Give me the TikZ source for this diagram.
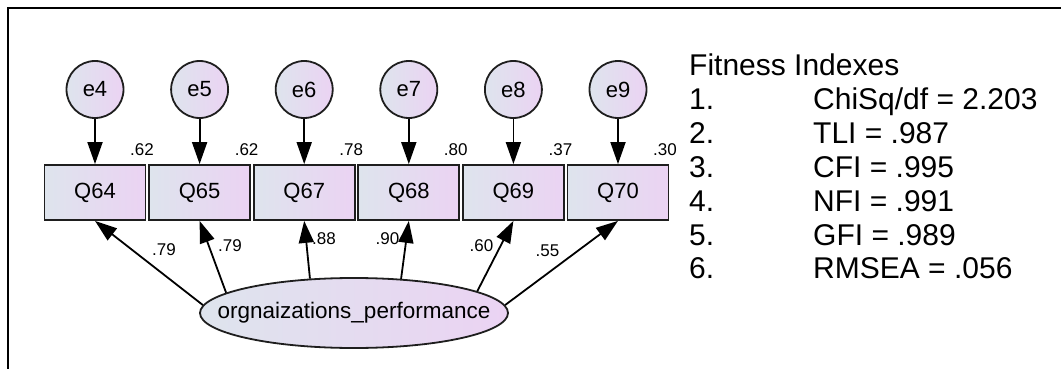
\documentclass[tikz,border=0pt]{standalone}
\usepackage{fontspec}
\setmainfont{Liberation Sans}
\usetikzlibrary{shapes.geometric,arrows.meta}
\definecolor{fillL}{RGB}{222,228,237}
\definecolor{fillR}{RGB}{235,211,243}
\definecolor{edge}{RGB}{30,30,30}
\begin{document}
\begin{tikzpicture}[x=1pt,y=-1pt,
  err/.style={circle, draw=edge, line width=1.8pt, minimum size=57pt, inner sep=0pt,
    left color=fillL, right color=fillR, font=\fontsize{22}{26}\selectfont},
  obs/.style={rectangle, draw=edge, line width=1.8pt, minimum width=101pt, minimum height=55pt,
    inner sep=0pt, left color=fillL, right color=fillR, font=\fontsize{22}{26}\selectfont},
  lat/.style={ellipse, draw=edge, line width=1.8pt, minimum width=308pt, minimum height=70pt,
    inner sep=0pt, left color=fillL, right color=fillR, font=\fontsize{22.5}{26}\selectfont},
  arr/.style={line width=1.8pt, draw=black, -{Triangle[length=22pt,width=15pt]}},
  coef/.style={font=\fontsize{17}{20}\selectfont, inner sep=0pt},
  fitline/.style={font=\fontsize{30}{34}\selectfont, anchor=base west, inner sep=0pt}]
\useasboundingbox (0,0) rectangle (1061,369);

% frame
\draw[line width=2pt] (8,369) -- (8,8) -- (1061,8);

% indicators with their error terms and squared multiple correlations
\foreach \n/\x/\e/\q/\v in {1/95/e4/Q64/.62, 2/199.6/e5/Q65/.62, 3/304.2/e6/Q67/.78,
                            4/408.8/e7/Q68/.80, 5/513.4/e8/Q69/.37, 6/618/e9/Q70/.30}{
  \node[err] (e\n) at (\x,89.5) {\e};
  \node[obs] (q\n) at (\x,192.5) {\q};
  \draw[arr] (e\n) -- (q\n);
  \node[coef] (r\n) at (\x+47,150) {\v};
}

% latent factor (label boxed at zero width so the ellipse keeps its set size)
\node[lat] (L) at (354,313) {\makebox[0pt]{orgnaizations\_performance}};

% standardized loadings
\foreach \n/\a/\lx/\ly/\c in {1/177/164/250/.79, 2/171/230/246/.79, 3/142/324/239/.88,
                              4/36/387.5/239/.90, 5/10/481.5/246/.60, 6/3/547.5/251/.55}{
  \draw[arr] (L.\a) -- (q\n.south);
  \node[coef] (p\n) at (\lx,\ly) {\c};
}

% fit indices
\node[fitline] (t0) at (689,76) {Fitness Indexes};
\foreach \k/\lab in {1/{ChiSq/df = 2.203}, 2/{TLI = .987}, 3/{CFI = .995},
                     4/{NFI = .991}, 5/{GFI = .989}, 6/{RMSEA = .056}}{
  \node[fitline] (k\k) at (689,76+33.8*\k) {\k.};
  \node[fitline] (v\k) at (813,76+33.8*\k) {\lab};
}
\end{tikzpicture}
\end{document}
